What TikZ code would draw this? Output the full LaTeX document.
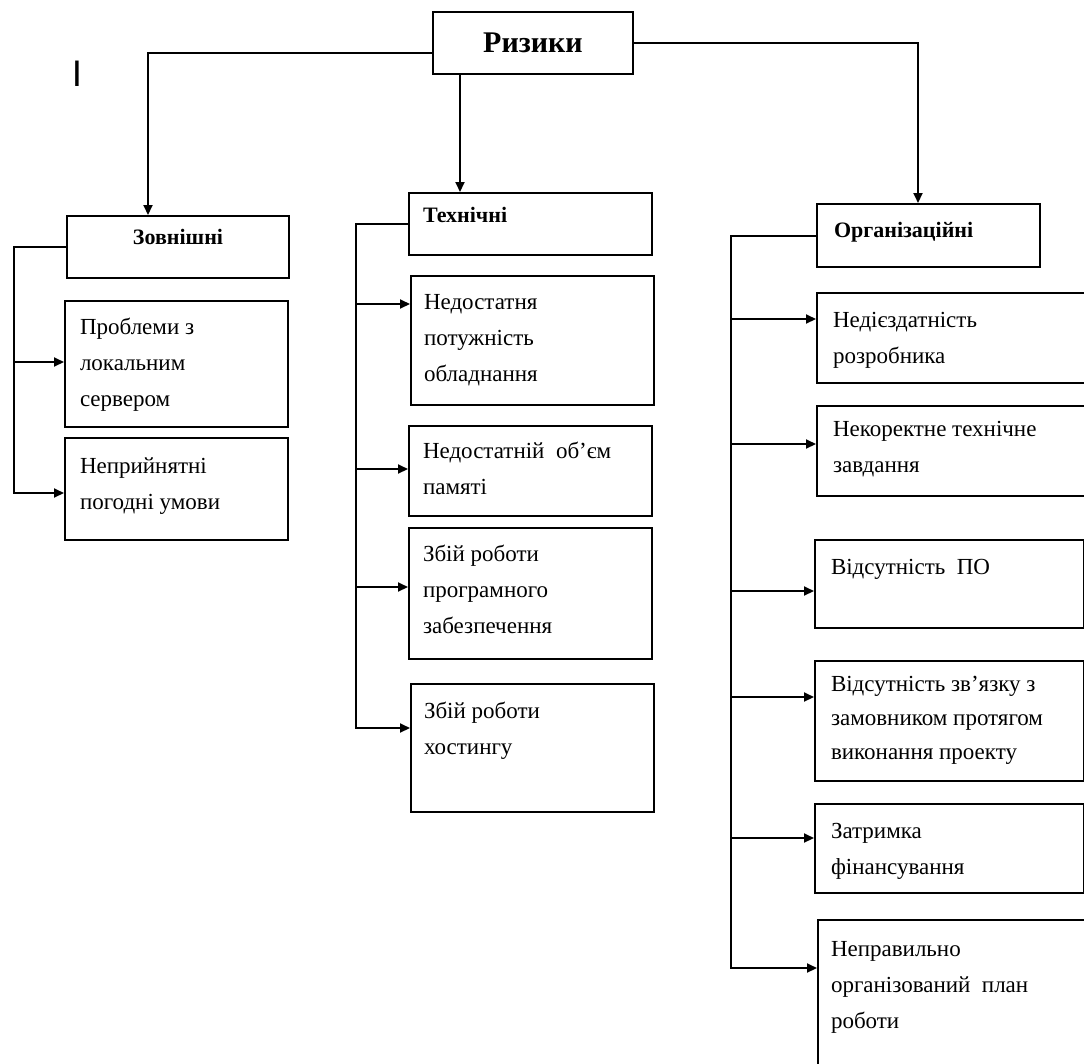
\documentclass[tikz,border=0pt]{standalone}
\usepackage{fontspec}
\setmainfont{Liberation Serif}
\setsansfont{Liberation Sans}
\usetikzlibrary{arrows.meta}
\newcommand{\cellbox}[5][15pt]{\parbox[c][#3][t]{#2}{\raggedright\leftskip=#1\rule{0pt}{#4}#5}}

\begin{document}
\begin{tikzpicture}[x=1pt, y=-1pt,
  cell/.style={draw, line width=2pt, inner sep=0pt, anchor=north west,
               font=\fontsize{23}{36}\selectfont},
  head/.style={cell, font=\fontsize{22}{30}\selectfont\bfseries},
  top/.style={cell, minimum width=200pt, minimum height=62pt,
              font=\fontsize{30}{30}\selectfont\bfseries},
  arr/.style={line width=2pt, -{Triangle[length=10pt, width=9pt]}}]
  \useasboundingbox (0,0) rectangle (1084,1063);
  \node[font=\fontsize{37}{37}\selectfont\sffamily, inner sep=0pt] (mark) at (77,74) {I};
  \node[top] (risk) at (432,11) {Ризики};
  \node[head] (zov) at (66,215) {\cellbox[0pt]{222pt}{62pt}{28pt}{\hfill Зовнішні\hfill\null}};
  \node[cell] (z1) at (64,300) {\cellbox{223pt}{126pt}{33pt}{Проблеми з\\локальним\\сервером}};
  \node[cell] (z2) at (64,437) {\cellbox{223pt}{102pt}{35pt}{Неприйнятні\\погодні умови}};
  \node[head] (tech) at (408,192) {\cellbox[14pt]{243pt}{62pt}{29pt}{Технічні}};
  \node[cell] (t1) at (410,275) {\cellbox[13pt]{243pt}{129pt}{33pt}{Недостатня\\потужність\\обладнання}};
  \node[cell] (t2) at (408,425) {\cellbox[14pt]{243pt}{90pt}{32pt}{Недостатній\ \ об’єм\\памяті}};
  \node[cell] (t3) at (408,527) {\cellbox[14pt]{243pt}{131pt}{33pt}{Збій роботи\\програмного\\забезпечення}};
  \node[cell] (t4) at (410,683) {\cellbox[13pt]{243pt}{128pt}{34pt}{Збій роботи\\хостингу}};
  \node[head] (org) at (816,203) {\cellbox[17pt]{223pt}{63pt}{33pt}{Організаційні}};
  \node[cell] (o1) at (816,292) {\cellbox[16pt]{272pt}{90pt}{34pt}{Недієздатність\\розробника}};
  \node[cell] (o2) at (816,405) {\cellbox[16pt]{272pt}{90pt}{30pt}{Некоректне технічне\\завдання}};
  \node[cell] (o3) at (814,539) {\cellbox[16pt]{269pt}{88pt}{34pt}{Відсутність\ \ ПО}};
  \node[cell, font=\fontsize{23}{34}\selectfont] (o4) at (814,660) {\cellbox[16pt]{269pt}{120pt}{30pt}{Відсутність зв’язку з\\замовником протягом\\виконання проекту}};
  \node[cell] (o5) at (814,803) {\cellbox[16pt]{269pt}{89pt}{34pt}{Затримка\\фінансування}};
  \node[cell] (o6) at (817,919) {\cellbox[13pt]{272pt}{190pt}{36pt}{Неправильно\\організований\ \ план\\роботи}};
  \draw[arr] ([yshift=-10pt]risk.west) -| ([xshift=82pt]zov.north west);
  \draw[arr] ([xshift=28pt]risk.south west) -- ([xshift=28pt]risk.south west |- tech.north);
  \draw[arr] (risk.east) -| ([xshift=102pt]org.north west);
  \foreach \n/\d in {z1/62, z2/56}
    \draw[arr] (zov.west) -- ++(-52,0) |- ([yshift=-\d pt]\n.north west);
  \foreach \n/\d in {t1/29, t2/44, t3/60, t4/45}
    \draw[arr] (tech.west) -- ++(-52,0) |- ([yshift=-\d pt]\n.north west);
  \foreach \n/\d in {o1/27, o2/39, o3/52, o4/37, o5/35, o6/49}
    \draw[arr] (org.west) -- ++(-85,0) |- ([yshift=-\d pt]\n.north west);
\end{tikzpicture}
\end{document}
